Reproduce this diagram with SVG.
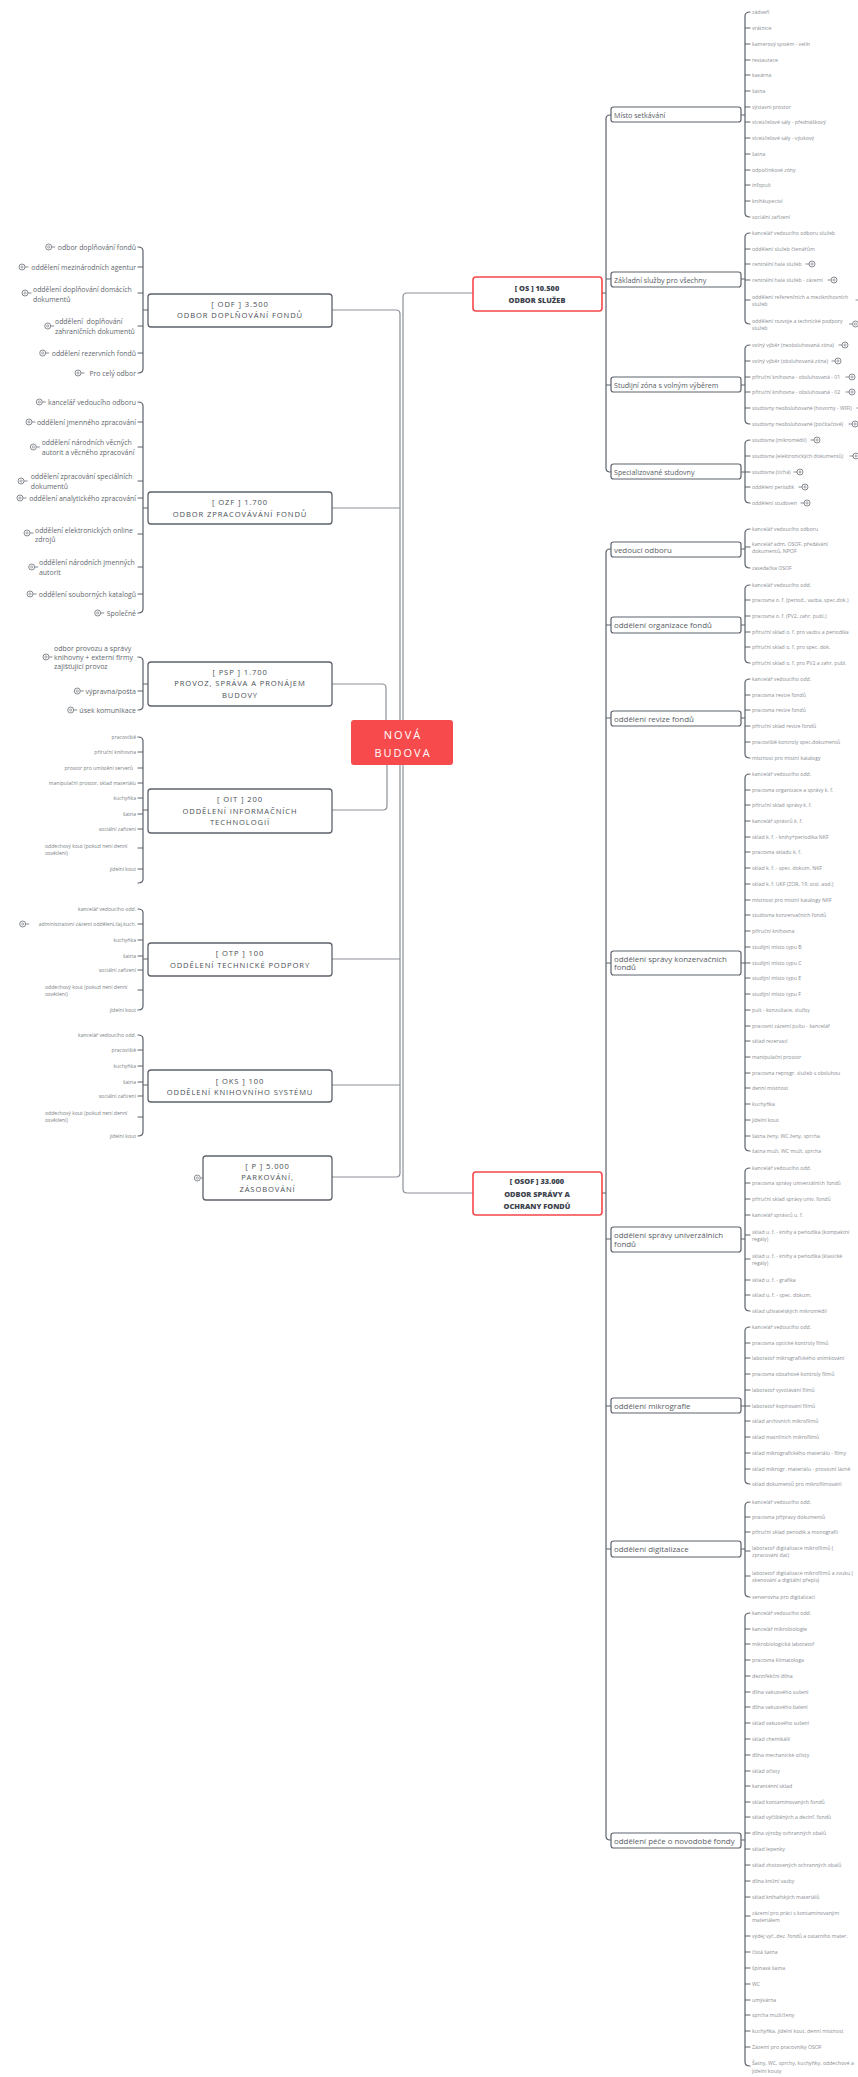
<svg xmlns="http://www.w3.org/2000/svg" width="858" height="2077" viewBox="0 0 858 2077">
<style>
text{font-family:"Open Sans","Noto Sans",sans-serif}
.lk{fill:none;stroke:#8b9098;stroke-width:1.2}
.bk{fill:none;stroke:#5c626b;stroke-width:1.2;stroke-linecap:round}
.rl{font-size:5.2px;fill:#8a8e94;dominant-baseline:central}
.ll{font-size:6.9px;fill:#62676e;dominant-baseline:central;text-anchor:end}
.ls{font-size:6.9px;fill:#62676e;dominant-baseline:central}
.lp{font-size:7px}
.lt{font-size:5.1px;fill:#7b7f86;dominant-baseline:central;text-anchor:end}
.lts{font-size:5.1px;fill:#7b7f86;dominant-baseline:central}
.bx{fill:#fff;stroke:#5c626b;stroke-width:1.2}
.bt{font-size:7.1px;fill:#585d65;dominant-baseline:central}
.bo{font-size:7.9px}
.mx{fill:#fff;stroke:#5c626b;stroke-width:1.3}
.mt{font-size:7.6px;fill:#4a4f57;text-anchor:middle;letter-spacing:0.9px;dominant-baseline:central}
.rx{fill:#fff;stroke:#f5474a;stroke-width:1.6}
.rt{font-size:7.4px;font-weight:800;fill:#3d434e;text-anchor:middle;dominant-baseline:central}
.ic{fill:#fff;stroke:#6a6f76;stroke-width:0.8}
.il{stroke:#6a6f76;stroke-width:0.8}
</style>
<defs>
<g id="icr"><path d="M-6.5 0H-3" class="il"/><circle r="3" class="ic"/><circle r="1.1" fill="none" stroke="#6a6f76" stroke-width="0.6"/></g>
<g id="icl"><path d="M3 0H6.5" class="il"/><circle r="3" class="ic"/><circle r="1.1" fill="none" stroke="#6a6f76" stroke-width="0.6"/></g>
</defs>
<rect width="858" height="2077" fill="#fff"/>

<g id="connectors">
<path class="lk" d="M473 293H407Q403 293 403 297V1189Q403 1193 407 1193H473"/>
<path class="lk" d="M332 310H396Q400 310 400 314V1173Q400 1177 396 1177H332M332 508H400M332 959H400M332 1085H400"/>
<path class="lk" d="M332 684H382Q386 684 386 688V721M332 810H383Q387 810 387 806V765"/>
<path class="bk" d="M602 293H606M611 115H610Q606 115 606 119V468Q606 472 610 472H611M606 279H611M606 385H611"/>
<path class="bk" d="M602 1193H606M611 549H610Q606 549 606 553V1836Q606 1840 610 1840H611M606 625H611M606 718H611M606 963H611M606 1239H611M606 1406H611M606 1549H611"/>
<path class="bk" d="M741 115H745M750 12Q745 12 745 16V213Q745 217 750 217M745 28H750M745 44H750M745 60H750M745 75H750M745 91H750M745 107H750M745 122H750M745 138H750M745 154H750M745 170H750M745 185H750M745 201H750"/>
<path class="bk" d="M741 279H745M750 233Q745 233 745 237V320Q745 324 750 324M745 249H750M745 264H750M745 280H750M745 300H750"/>
<path class="bk" d="M741 385H745M750 345Q745 345 745 349V420Q745 424 750 424M745 361H750M745 377H750M745 392H750M745 408H750"/>
<path class="bk" d="M741 472H745M750 440Q745 440 745 444V499Q745 503 750 503M745 456H750M745 472H750M745 487H750"/>
<path class="bk" d="M741 549H745M750 529Q745 529 745 533V564Q745 568 750 568M745 547H750"/>
<path class="bk" d="M741 625H745M750 585Q745 585 745 589V659Q745 663 750 663M745 600H750M745 616H750M745 632H750M745 647H750"/>
<path class="bk" d="M741 718H745M750 679Q745 679 745 683V754Q745 758 750 758M745 695H750M745 710H750M745 726H750M745 742H750"/>
<path class="bk" d="M741 963H745M750 774Q745 774 745 778V1147Q745 1151 750 1151M745 790H750M745 805H750M745 821H750M745 837H750M745 852H750M745 868H750M745 884H750M745 900H750M745 915H750M745 931H750M745 947H750M745 963H750M745 978H750M745 994H750M745 1010H750M745 1026H750M745 1041H750M745 1057H750M745 1073H750M745 1088H750M745 1104H750M745 1120H750M745 1136H750"/>
<path class="bk" d="M741 1239H745M750 1168Q745 1168 745 1172V1307Q745 1311 750 1311M745 1183H750M745 1199H750M745 1215H750M745 1235H750M745 1259H750M745 1280H750M745 1295H750"/>
<path class="bk" d="M741 1406H745M750 1327Q745 1327 745 1331V1480Q745 1484 750 1484M745 1343H750M745 1358H750M745 1374H750M745 1390H750M745 1406H750M745 1421H750M745 1437H750M745 1453H750M745 1469H750"/>
<path class="bk" d="M741 1549H745M750 1502Q745 1502 745 1506V1593Q745 1597 750 1597M745 1517H750M745 1532H750M745 1551H750M745 1576H750"/>
<path class="bk" d="M741 1840H745M750 1613Q745 1613 745 1617V2062Q745 2066 750 2066M745 1629H750M745 1644H750M745 1660H750M745 1676H750M745 1692H750M745 1707H750M745 1723H750M745 1739H750M745 1755H750M745 1771H750M745 1786H750M745 1802H750M745 1817H750M745 1833H750M745 1849H750M745 1865H750M745 1881H750M745 1897H750M745 1916H750M745 1936H750M745 1952H750M745 1968H750M745 1984H750M745 2000H750M745 2015H750M745 2031H750M745 2047H750"/>
<path class="bk" d="M148 310H143M138 247Q143 247 143 251V369Q143 373 138 373M143 267H138M143 293H138M143 326H138M143 353H138"/>
<path class="bk" d="M148 508H143M138 402Q143 402 143 406V609Q143 613 138 613M143 422H138M143 447H138M143 481H138M143 498H138M143 534H138M143 567H138M143 594H138"/>
<path class="bk" d="M148 684H143M138 657Q143 657 143 661V706Q143 710 138 710M143 691H138"/>
<path class="bk" d="M148 810H143M138 737Q143 737 143 741V879Q143 883 138 883M143 752H138M143 768H138M143 783H138M143 798H138M143 814H138M143 829H138M143 848H138M143 869H138"/>
<path class="bk" d="M148 959H143M138 909Q143 909 143 913V1006Q143 1010 138 1010M143 924H138M143 940H138M143 956H138M143 970H138M143 990H138"/>
<path class="bk" d="M148 1085H143M138 1035Q143 1035 143 1039V1132Q143 1136 138 1136M143 1050H138M143 1066H138M143 1082H138M143 1096H138M143 1117H138"/>
<path class="il" d="M200.5 1178H203"/>
</g>

<g id="root">
<rect x="351" y="720" width="102" height="45" rx="3" fill="#f74a4c"/>
<text x="403" y="734" font-size="11" fill="#fff" text-anchor="middle" letter-spacing="2" dominant-baseline="central">NOVÁ</text>
<text x="403" y="752" font-size="11" fill="#fff" text-anchor="middle" letter-spacing="2" dominant-baseline="central">BUDOVA</text>
</g>

<g id="os">
<rect class="rx" x="473" y="277" width="129" height="34" rx="3"/>
<text class="rt" x="537" y="288">[ OS ] 10.500</text>
<text class="rt" x="537" y="299.5">ODBOR SLUŽEB</text>
</g>
<g id="osof">
<rect class="rx" x="473" y="1172" width="129" height="43" rx="3"/>
<text class="rt" x="537" y="1181">[ OSOF ] 33.000</text>
<text class="rt" x="537" y="1193.5">ODBOR SPRÁVY A</text>
<text class="rt" x="537" y="1206">OCHRANY FONDŮ</text>
</g>

<g id="odf">
<rect class="mx" x="148" y="294" width="184" height="33" rx="3"/>
<text class="mt" x="240" y="304">[ ODF ] 3.500</text>
<text class="mt" x="240" y="315">ODBOR DOPLŇOVÁNÍ FONDŮ</text>
<text class="ll" x="136" y="247">odbor doplňování fondů</text><use href="#icl" x="48.7" y="247"/>
<text class="ll" x="136" y="267">oddělení mezinárodních agentur</text><use href="#icl" x="22" y="267"/>
<text class="ls" x="33" y="289.5">oddělení doplňování domácích</text><text class="ls" x="33" y="299">dokumentů</text><use href="#icl" x="25" y="293"/>
<text class="ls" x="55" y="321" xml:space="preserve">oddělení  doplňování</text><text class="ls" x="55" y="331">zahraničních dokumentů</text><use href="#icl" x="47.7" y="326"/>
<text class="ll" x="136" y="353">oddělení rezervních fondů</text><use href="#icl" x="42.7" y="353"/>
<text class="ll" x="136" y="373">Pro celý odbor</text><use href="#icl" x="78" y="373"/>
</g>

<g id="ozf">
<rect class="mx" x="148" y="492" width="184" height="32" rx="3"/>
<text class="mt" x="240" y="502">[ OZF ] 1.700</text>
<text class="mt" x="240" y="514">ODBOR ZPRACOVÁVÁNÍ FONDŮ</text>
<text class="ll" x="136" y="402">kancelář vedoucího odboru</text><use href="#icl" x="39.3" y="402"/>
<text class="ll" x="136" y="422">oddělení jmenného zpracování</text><use href="#icl" x="29" y="422"/>
<text class="ls" x="41.7" y="442.3">oddělení národních věcných</text><text class="ls" x="41.7" y="452.3">autorit a věcného zpracování</text><use href="#icl" x="33.3" y="447"/>
<text class="ls" x="30.7" y="476.7">oddělení zpracování speciálních</text><text class="ls" x="30.7" y="486">dokumentů</text><use href="#icl" x="21" y="481"/>
<text class="ll" x="136" y="498">oddělení analytického zpracování</text><use href="#icl" x="20" y="498"/>
<text class="ls" x="35" y="530">oddělení elektronických online</text><text class="ls" x="35" y="539.3">zdrojů</text><use href="#icl" x="27" y="533"/>
<text class="ls" x="39" y="562.7">oddělení národních jmenných</text><text class="ls" x="39" y="572.3">autorit</text><use href="#icl" x="31.7" y="567"/>
<text class="ll" x="136" y="594">oddělení souborných katalogů</text><use href="#icl" x="30" y="594"/>
<text class="ll" x="136" y="613">Společné</text><use href="#icl" x="97.7" y="613"/>
</g>

<g id="psp">
<rect class="mx" x="148" y="662" width="184" height="44" rx="3"/>
<text class="mt" x="240" y="672.3">[ PSP ] 1.700</text>
<text class="mt" x="240" y="683">PROVOZ, SPRÁVA A PRONÁJEM</text>
<text class="mt" x="240" y="695">BUDOVY</text>
<text class="ls lp" x="54" y="648.3">odbor provozu a správy</text><text class="ls lp" x="54" y="657.3">knihovny + externí firmy</text><text class="ls lp" x="54" y="666.7">zajišťující provoz</text><use href="#icl" x="46" y="657"/>
<text class="ll lp" x="136" y="691">výpravna/pošta</text><use href="#icl" x="77.3" y="691"/>
<text class="ll lp" x="136" y="710">úsek komunikace</text><use href="#icl" x="70.7" y="710"/>
</g>

<g id="oit">
<rect class="mx" x="148" y="789" width="184" height="44" rx="3"/>
<text class="mt" x="240" y="799.3">[ OIT ] 200</text>
<text class="mt" x="240" y="810.7">ODDĚLENÍ INFORMAČNÍCH</text>
<text class="mt" x="240" y="821.7">TECHNOLOGIÍ</text>
<text class="lt" x="136" y="737">pracoviště</text>
<text class="lt" x="136" y="752">příruční knihovna</text>
<text class="lt" x="133" y="768">prostor pro umístění serverů</text>
<text class="lt" x="136" y="783">manipulační prostor, sklad materiálu</text>
<text class="lt" x="136" y="798">kuchyňka</text>
<text class="lt" x="136" y="814">šatna</text>
<text class="lt" x="136" y="829">sociální zařízení</text>
<text class="lts" x="45" y="845.7">oddechový kout (pokud není denní</text><text class="lts" x="45" y="852.7">osvětlení)</text>
<text class="lt" x="136" y="869">jídelní kout</text>
</g>

<g id="otp">
<rect class="mx" x="148" y="943" width="184" height="33" rx="3"/>
<text class="mt" x="240" y="953.3">[ OTP ] 100</text>
<text class="mt" x="240" y="965">ODDĚLENÍ TECHNICKÉ PODPORY</text>
<text class="lt" x="136" y="909">kancelář vedoucího odd.</text>
<text class="lt" x="136" y="924">administrativní zázemí oddělení,čaj.kuch.</text><use href="#icl" x="22.7" y="924"/>
<text class="lt" x="136" y="940">kuchyňka</text>
<text class="lt" x="136" y="956">šatna</text>
<text class="lt" x="136" y="970">sociální zařízení</text>
<text class="lts" x="45" y="987.3">oddechový kout (pokud není denní</text><text class="lts" x="45" y="993.7">osvětlení)</text>
<text class="lt" x="136" y="1010">jídelní kout</text>
</g>

<g id="oks">
<rect class="mx" x="148" y="1070" width="184" height="32" rx="3"/>
<text class="mt" x="240" y="1080.7">[ OKS ] 100</text>
<text class="mt" x="240" y="1091.7">ODDĚLENÍ KNIHOVNÍHO SYSTÉMU</text>
<text class="lt" x="136" y="1035">kancelář vedoucího odd.</text>
<text class="lt" x="136" y="1050">pracoviště</text>
<text class="lt" x="136" y="1066">kuchyňka</text>
<text class="lt" x="136" y="1082">šatna</text>
<text class="lt" x="136" y="1096">sociální zařízení</text>
<text class="lts" x="45" y="1113.3">oddechový kout (pokud není denní</text><text class="lts" x="45" y="1120">osvětlení)</text>
<text class="lt" x="136" y="1136">jídelní kout</text>
</g>

<g id="p">
<rect class="mx" x="203" y="1156" width="129" height="44" rx="3"/>
<text class="mt" x="267.5" y="1166">[ P ] 5.000</text>
<text class="mt" x="267.5" y="1177.3">PARKOVÁNÍ,</text>
<text class="mt" x="267.5" y="1189">ZÁSOBOVÁNÍ</text>
<circle class="ic" cx="197.3" cy="1178" r="3"/><circle cx="197.3" cy="1178" r="1.1" fill="none" stroke="#6a6f76" stroke-width="0.6"/>
</g>

<g id="misto">
<rect class="bx" x="611" y="107" width="130" height="15" rx="2.5"/>
<text class="bt" x="614" y="114.5">Místo setkávání</text>
<text class="rl" x="752" y="12">zádveří</text>
<text class="rl" x="752" y="28">vrátnice</text>
<text class="rl" x="752" y="44">kamerový systém - velín</text>
<text class="rl" x="752" y="60">restaurace</text>
<text class="rl" x="752" y="75">kavárna</text>
<text class="rl" x="752" y="91">šatna</text>
<text class="rl" x="752" y="107">výstavní prostor</text>
<text class="rl" x="752" y="122">víceúčelové sály - přednáškový</text>
<text class="rl" x="752" y="138">víceúčelové sály - výukový</text>
<text class="rl" x="752" y="154">šatna</text>
<text class="rl" x="752" y="170">odpočinkové zóny</text>
<text class="rl" x="752" y="185">infopult</text>
<text class="rl" x="752" y="201">knihkupectví</text>
<text class="rl" x="752" y="217">sociální zařízení</text>
</g>

<g id="zakladni">
<rect class="bx" x="611" y="272" width="130" height="15" rx="2.5"/>
<text class="bt" x="614" y="279.5">Základní služby pro všechny</text>
<text class="rl" x="752" y="233">kancelář vedoucího odboru služeb</text>
<text class="rl" x="752" y="249">oddělení služeb čtenářům</text>
<text class="rl" x="752" y="264">centrální hala služeb</text><use href="#icr" x="812" y="264"/>
<text class="rl" x="752" y="280">centrální hala služeb - zázemí</text><use href="#icr" x="834" y="280"/>
<text class="rl" x="752" y="297">oddělení referenčních a meziknihovních</text><text class="rl" x="752" y="304">služeb</text><use href="#icr" x="862" y="300"/>
<text class="rl" x="752" y="321">oddělení rozvoje a technické podpory</text><text class="rl" x="752" y="328">služeb</text><use href="#icr" x="855.5" y="324"/>
</g>

<g id="studijni">
<rect class="bx" x="611" y="377" width="130" height="15" rx="2.5"/>
<text class="bt" x="614" y="384.5">Studijní zóna s volným výběrem</text>
<text class="rl" x="752" y="345">volný výběr (neobsluhovaná zóna)</text><use href="#icr" x="845" y="345"/>
<text class="rl" x="752" y="361">volný výběr (obsluhovaná zóna)</text><use href="#icr" x="838" y="361"/>
<text class="rl" x="752" y="377">příruční knihovna - obsluhovaná - 01</text><use href="#icr" x="852" y="377"/>
<text class="rl" x="752" y="392">příruční knihovna - obsluhovaná - 02</text><use href="#icr" x="852" y="392"/>
<text class="rl" x="752" y="408">studovny neobsluhované (hovorny - WIFI)</text><use href="#icr" x="863" y="408"/>
<text class="rl" x="752" y="424">studovny neobsluhované (počítačové)</text><use href="#icr" x="855" y="424"/>
</g>

<g id="specializovane">
<rect class="bx" x="611" y="464" width="130" height="15" rx="2.5"/>
<text class="bt" x="614" y="471.5">Specializované studovny</text>
<text class="rl" x="752" y="440">studovna (mikromédií)</text><use href="#icr" x="817" y="440"/>
<text class="rl" x="752" y="456">studovna (elektronických dokumentů)</text><use href="#icr" x="856" y="456"/>
<text class="rl" x="752" y="472">studovna (tichá)</text><use href="#icr" x="800" y="472"/>
<text class="rl" x="752" y="487">oddělení periodik</text><use href="#icr" x="805" y="487"/>
<text class="rl" x="752" y="503">oddělení studoven</text><use href="#icr" x="807" y="503"/>
</g>

<g id="vedouci">
<rect class="bx" x="611" y="542" width="130" height="15" rx="2.5"/>
<text class="bt bo" x="614" y="549.5">vedoucí odboru</text>
<text class="rl" x="752" y="529">kancelář vedoucího odboru</text>
<text class="rl" x="752" y="544">kancelář adm. OSOF, předávání</text><text class="rl" x="752" y="551">dokumentů, NPOF</text>
<text class="rl" x="752" y="568">zasedačka OSOF</text>
</g>

<g id="organizace">
<rect class="bx" x="611" y="617" width="130" height="16" rx="2.5"/>
<text class="bt bo" x="614" y="625">oddělení organizace fondů</text>
<text class="rl" x="752" y="585">kancelář vedoucího odd.</text>
<text class="rl" x="752" y="600">pracovna o. f. (period., vazba, spec.dok.)</text>
<text class="rl" x="752" y="616">pracovna o. f. (PV2, zahr. publ.)</text>
<text class="rl" x="752" y="632">příruční sklad o. f. pro vazbu a periodika</text>
<text class="rl" x="752" y="647">příruční sklad o. f. pro spec. dok.</text>
<text class="rl" x="752" y="663">příruční sklad o. f. pro PV2 a zahr. publ.</text>
</g>

<g id="revize">
<rect class="bx" x="611" y="711" width="130" height="15" rx="2.5"/>
<text class="bt bo" x="614" y="718.5">oddělení revize fondů</text>
<text class="rl" x="752" y="679">kancelář vedoucího odd.</text>
<text class="rl" x="752" y="695">pracovna revize fondů</text>
<text class="rl" x="752" y="710">pracovna revize fondů</text>
<text class="rl" x="752" y="726">příruční sklad revize fondů</text>
<text class="rl" x="752" y="742">pracoviště kontroly spec.dokumentů</text>
<text class="rl" x="752" y="758">místnost pro místní katalogy</text>
</g>

<g id="konzervacni">
<rect class="bx" x="611" y="951" width="130" height="24" rx="2.5"/>
<text class="bt bo" x="614" y="958.7">oddělení správy konzervačních</text>
<text class="bt bo" x="614" y="967.3">fondů</text>
<text class="rl" x="752" y="774">kancelář vedoucího odd.</text>
<text class="rl" x="752" y="790">pracovna organizace a správy k. f.</text>
<text class="rl" x="752" y="805">příruční sklad správy k. f.</text>
<text class="rl" x="752" y="821">kancelář správců k. f.</text>
<text class="rl" x="752" y="837">sklad k. f. - knihy+periodika NKF</text>
<text class="rl" x="752" y="852">pracovna skladu k. f.</text>
<text class="rl" x="752" y="868">sklad k. f. - spec. dokum. NKF</text>
<text class="rl" x="752" y="884">sklad k. f. UKF (ZOR, 19. stol. aod.)</text>
<text class="rl" x="752" y="900">místnost pro místní katalogy NKF</text>
<text class="rl" x="752" y="915">studovna konzervačních fondů</text>
<text class="rl" x="752" y="931">příruční knihovna</text>
<text class="rl" x="752" y="947">studijní místo typu B</text>
<text class="rl" x="752" y="963">studijní místo typu C</text>
<text class="rl" x="752" y="978">studijní místo typu E</text>
<text class="rl" x="752" y="994">studijní místo typu F</text>
<text class="rl" x="752" y="1010">pult - konzultace, služby</text>
<text class="rl" x="752" y="1026">pracovní zázemí pultu - kancelář</text>
<text class="rl" x="752" y="1041">sklad rezervací</text>
<text class="rl" x="752" y="1057">manipulační prostor</text>
<text class="rl" x="752" y="1073">pracovna reprogr. služeb s obsluhou</text>
<text class="rl" x="752" y="1088">denní místnost</text>
<text class="rl" x="752" y="1104">kuchyňka</text>
<text class="rl" x="752" y="1120">jídelní kout</text>
<text class="rl" x="752" y="1136">šatna ženy, WC ženy, sprcha</text>
<text class="rl" x="752" y="1151">šatna muži, WC muži, sprcha</text>
</g>

<g id="univerzalni">
<rect class="bx" x="611" y="1227" width="130" height="25" rx="2.5"/>
<text class="bt bo" x="614" y="1234.5">oddělení správy univerzálních</text>
<text class="bt bo" x="614" y="1244">fondů</text>
<text class="rl" x="752" y="1168">kancelář vedoucího odd.</text>
<text class="rl" x="752" y="1183">pracovna správy univerzálních fondů</text>
<text class="rl" x="752" y="1199">příruční sklad správy univ. fondů</text>
<text class="rl" x="752" y="1215">kancelář správců u. f.</text>
<text class="rl" x="752" y="1232">sklad u. f. - knihy a periodika (kompaktní</text><text class="rl" x="752" y="1239">regály)</text>
<text class="rl" x="752" y="1256">sklad u. f. - knihy a periodika (klasické</text><text class="rl" x="752" y="1263">regály)</text>
<text class="rl" x="752" y="1280">sklad u. f. - grafika</text>
<text class="rl" x="752" y="1295">sklad u. f. - spec. dokum.</text>
<text class="rl" x="752" y="1311">sklad uživatelských mikromédií</text>
</g>

<g id="mikrografie">
<rect class="bx" x="611" y="1398" width="130" height="15" rx="2.5"/>
<text class="bt bo" x="614" y="1405.5">oddělení mikrografie</text>
<text class="rl" x="752" y="1327">kancelář vedoucího odd.</text>
<text class="rl" x="752" y="1343">pracovna optické kontroly filmů</text>
<text class="rl" x="752" y="1358">laboratoř mikrografického snímkování</text>
<text class="rl" x="752" y="1374">pracovna obsahové kontroly filmů</text>
<text class="rl" x="752" y="1390">laboratoř vyvolávání filmů</text>
<text class="rl" x="752" y="1406">laboratoř kopírování filmů</text>
<text class="rl" x="752" y="1421">sklad archivních mikrofilmů</text>
<text class="rl" x="752" y="1437">sklad matričních mikrofilmů</text>
<text class="rl" x="752" y="1453">sklad mikrografického materiálu - filmy</text>
<text class="rl" x="752" y="1469">sklad mikrogr. materiálu - provozní lázně</text>
<text class="rl" x="752" y="1484">sklad dokumentů pro mikrofilmování</text>
</g>

<g id="digitalizace">
<rect class="bx" x="611" y="1541" width="130" height="16" rx="2.5"/>
<text class="bt bo" x="614" y="1549">oddělení digitalizace</text>
<text class="rl" x="752" y="1502">kancelář vedoucího odd.</text>
<text class="rl" x="752" y="1517">pracovna přípravy dokumentů</text>
<text class="rl" x="752" y="1532">příruční sklad periodik a monografií</text>
<text class="rl" x="752" y="1548">laboratoř digitalizace mikrofilmů (</text><text class="rl" x="752" y="1555">zpracování dat)</text>
<text class="rl" x="752" y="1573">laboratoř digitalizace mikrofilmů a zvuku (</text><text class="rl" x="752" y="1580">skenování a digitální přepis)</text>
<text class="rl" x="752" y="1597">serverovna pro digitalizaci</text>
</g>

<g id="pece">
<rect class="bx" x="611" y="1833" width="130" height="15" rx="2.5"/>
<text class="bt bo" x="614" y="1840.5">oddělení péče o novodobé fondy</text>
<text class="rl" x="752" y="1613">kancelář vedoucího odd.</text>
<text class="rl" x="752" y="1629">kancelář mikrobiologie</text>
<text class="rl" x="752" y="1644">mikrobiologická laboratoř</text>
<text class="rl" x="752" y="1660">pracovna klimatologa</text>
<text class="rl" x="752" y="1676">dezinfekční dílna</text>
<text class="rl" x="752" y="1692">dílna vakuového sušení</text>
<text class="rl" x="752" y="1707">dílna vakuového balení</text>
<text class="rl" x="752" y="1723">sklad vakuového sušení</text>
<text class="rl" x="752" y="1739">sklad chemikálií</text>
<text class="rl" x="752" y="1755">dílna mechanické očisty</text>
<text class="rl" x="752" y="1771">sklad očisty</text>
<text class="rl" x="752" y="1786">karanténní sklad</text>
<text class="rl" x="752" y="1802">sklad kontaminovaných fondů</text>
<text class="rl" x="752" y="1817">sklad vyčištěných a dezinf. fondů</text>
<text class="rl" x="752" y="1833">dílna výroby ochranných obalů</text>
<text class="rl" x="752" y="1849">sklad lepenky</text>
<text class="rl" x="752" y="1865">sklad zhotovených ochranných obalů</text>
<text class="rl" x="752" y="1881">dílna knižní vazby</text>
<text class="rl" x="752" y="1897">sklad knihařských materiálů</text>
<text class="rl" x="752" y="1913">zázemí pro práci s kontaminovaným</text><text class="rl" x="752" y="1920">materiálem</text>
<text class="rl" x="752" y="1936">výdej vyč.,dez. fondů a ostatního mater.</text>
<text class="rl" x="752" y="1952">čistá šatna</text>
<text class="rl" x="752" y="1968">špinavá šatna</text>
<text class="rl" x="752" y="1984">WC</text>
<text class="rl" x="752" y="2000">umývárna</text>
<text class="rl" x="752" y="2015">sprcha muži/ženy</text>
<text class="rl" x="752" y="2031">kuchyňka, jídelní kout, denní místnost</text>
<text class="rl" x="752" y="2047">Zázemí pro pracovníky OSOF</text>
<text class="rl" x="752" y="2063">Šatny, WC, sprchy, kuchyňky, oddechové a</text><text class="rl" x="752" y="2070.5">jídelní kouty</text>
</g>
</svg>
